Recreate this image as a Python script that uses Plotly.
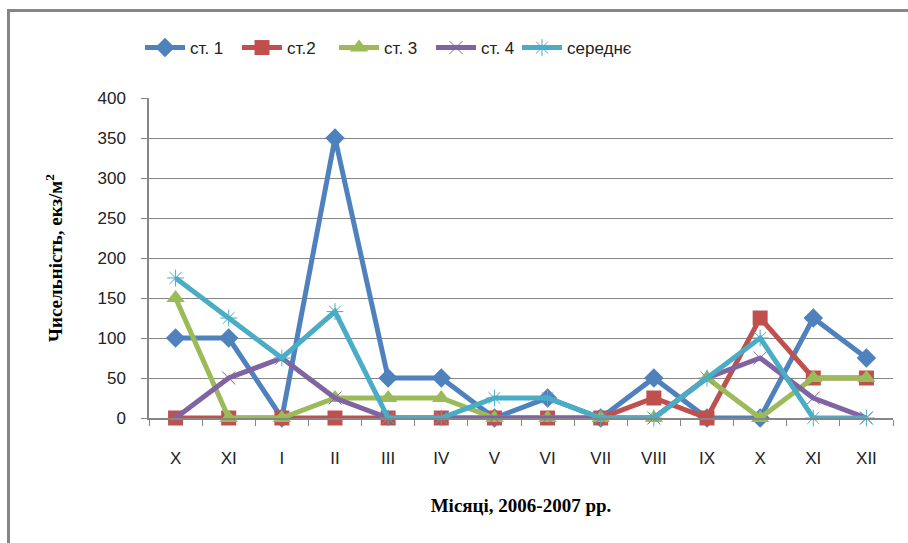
import plotly.graph_objects as go

months = ["X", "XI", "I", "II", "III", "IV", "V", "VI", "VII", "VIII", "IX", "X", "XI", "XII"]
st1 = [100, 100, 0, 350, 50, 50, 0, 25, 0, 50, 0, 0, 125, 75]
st2 = [0, 0, 0, 0, 0, 0, 0, 0, 0, 25, 0, 125, 50, 50]
st3 = [150, 0, 0, 25, 25, 25, 0, 0, 0, 0, 50, 0, 50, 50]
st4 = [0, 50, 75, 25, 0, 0, 0, 0, 0, 0, 50, 75, 25, 0]
avg = [175, 125, 75, 133, 0, 0, 25, 25, 0, 0, 50, 100, 0, 0]
y_ticks = [0, 50, 100, 150, 200, 250, 300, 350, 400]

xpos = list(range(len(months)))

series = [
    ("ст. 1", st1, "#4F81BD", dict(symbol="diamond", size=15), "legend"),
    ("ст.2", st2, "#C0504D", dict(symbol="square", size=15), "legend"),
    ("ст. 3", st3, "#9BBB59", dict(symbol="triangle-up", size=16), "legend"),
    ("ст. 4", st4, "#8064A2", dict(symbol="x-thin", size=13, line=dict(width=1, color="#8064A2")), "legend"),
    ("середнє", avg, "#4BACC6", dict(symbol="asterisk", size=14, line=dict(width=1, color="#4BACC6")), "legend2"),
]

fig = go.Figure()
for name, vals, color, mk, lg in series:
    m = dict(color=color)
    m.update(mk)
    fig.add_trace(go.Scatter(
        x=xpos, y=vals, name=name, mode="lines+markers",
        line=dict(color=color, width=5), marker=m, cliponaxis=False,
        legend=lg,
    ))

L, R, T, B = 149, 15, 98, 125
W, H = 908, 543
pw = W - L - R
ph = H - T - B

def px2x(p):
    return (p - L) / pw

def py2y(p):
    return (H - B - p) / ph

border = dict(color="#868686", width=3)
fig.add_shape(type="line", xref="paper", yref="paper",
              x0=px2x(8.5), x1=px2x(930), y0=py2y(10.5), y1=py2y(10.5), line=border)
fig.add_shape(type="line", xref="paper", yref="paper",
              x0=px2x(8.5), x1=px2x(8.5), y0=py2y(9), y1=py2y(560), line=border)

tickfont = dict(family="Liberation Sans Narrow, Arial Narrow, Liberation Sans, sans-serif", size=17, color="#222")
legfont = dict(family="Liberation Sans Narrow, Arial Narrow, Liberation Sans, sans-serif", size=17, color="#222")

fig.update_layout(
    width=W, height=H,
    margin=dict(l=L, r=R, t=T, b=B),
    paper_bgcolor="white", plot_bgcolor="white",
    showlegend=True,
    legend=dict(orientation="h", x=px2x(140), y=py2y(30), xanchor="left", yanchor="top",
                font=legfont, itemwidth=40, entrywidth=42, entrywidthmode="pixels",
                tracegroupgap=0, bgcolor="rgba(0,0,0,0)"),
    legend2=dict(orientation="h", x=px2x(517), y=py2y(30), xanchor="left", yanchor="top",
                 font=legfont, itemwidth=40,
                 tracegroupgap=0, bgcolor="rgba(0,0,0,0)"),
    xaxis=dict(
        range=[-0.5, len(months) - 0.5],
        tickmode="array", tickvals=xpos, ticktext=months,
        ticks="", tickfont=tickfont, ticklabelstandoff=24,
        showgrid=False, zeroline=False,
        showline=True, linecolor="#868686", linewidth=1.5,
        minor=dict(ticks="outside", tick0=0.5, dtick=1, ticklen=6, tickcolor="#868686", showgrid=False),
        title=dict(text="<b>Місяці, 2006-2007 рр.</b>", standoff=32,
                   font=dict(family="Liberation Serif, Times New Roman, serif", size=19, color="#000")),
    ),
    yaxis=dict(
        range=[0, 400], tickmode="array", tickvals=y_ticks,
        ticks="outside", ticklen=6, tickcolor="#868686", tickfont=tickfont, ticklabelstandoff=12,
        showgrid=True, gridcolor="#868686", gridwidth=1,
        zeroline=False, showline=True, linecolor="#868686", linewidth=1.5,
        title=dict(text="<b>Чисельність, екз/м<sup>2</sup></b>", standoff=30,
                   font=dict(family="Liberation Serif, Times New Roman, serif", size=19, color="#000")),
    ),
)

fig.write_html("out.html")
